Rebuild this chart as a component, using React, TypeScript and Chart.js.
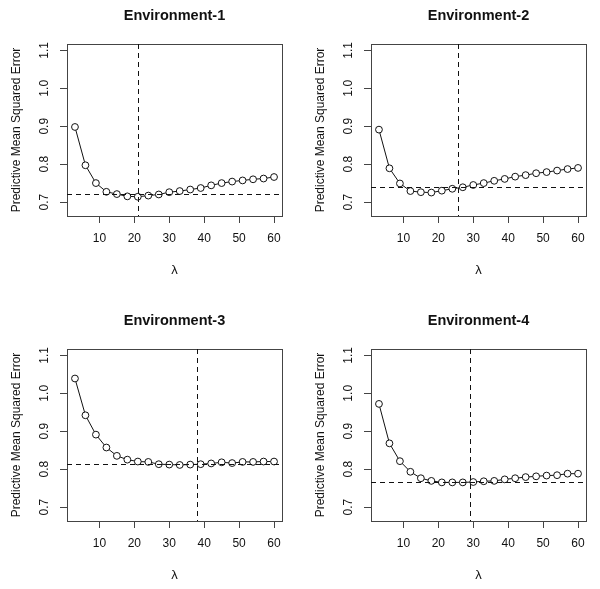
import React, { useEffect, useRef } from "react";
import { Chart, registerables } from "chart.js";

Chart.register(...registerables);

// ---- data ----
const lambdaValues = [3, 6, 9, 12, 15, 18, 21, 24, 27, 30, 33, 36, 39, 42, 45, 48, 51, 54, 57, 60];
const env1 = [0.898, 0.797, 0.75, 0.727, 0.721, 0.715, 0.714, 0.717, 0.72, 0.726, 0.729, 0.733, 0.737, 0.744, 0.75, 0.754, 0.757, 0.76, 0.762, 0.766];
const env2 = [0.891, 0.789, 0.749, 0.729, 0.726, 0.725, 0.73, 0.735, 0.739, 0.745, 0.75, 0.756, 0.761, 0.767, 0.771, 0.776, 0.779, 0.783, 0.787, 0.79];
const env3 = [1.039, 0.942, 0.891, 0.857, 0.835, 0.825, 0.82, 0.819, 0.813, 0.812, 0.811, 0.812, 0.813, 0.815, 0.818, 0.816, 0.819, 0.819, 0.82, 0.82];
const env4 = [0.972, 0.868, 0.821, 0.793, 0.776, 0.769, 0.765, 0.765, 0.765, 0.766, 0.768, 0.769, 0.773, 0.776, 0.779, 0.781, 0.783, 0.784, 0.788, 0.788];
const panelTitles = ["Environment-1", "Environment-2", "Environment-3", "Environment-4"];
const hRefs = [0.721, 0.74, 0.814, 0.766];
const vRefs = [21, 25.7, 38, 29];
const xTickValues = [10, 20, 30, 40, 50, 60];
const yTickValues = [0.7, 0.8, 0.9, 1.0, 1.1];
const xLimits = [0.72, 62.28];
const yLimits = [0.6632, 1.1168];
const yAxisLabel = "Predictive Mean Squared Error";
const xAxisLabel = "λ";

const allSeries = [env1, env2, env3, env4];

// ---- style / layout ----
const FONT = '"Liberation Sans", Arial, Helvetica, sans-serif';
const INK = "#111111";
const AXIS = "#444444";

type Box = { l: number; t: number; r: number; b: number };
type Layout = { left: number; top: number; w: number; h: number; box: Box };

const layouts: Layout[] = [
  { left: 0, top: 0, w: 300, h: 295, box: { l: 67, t: 44, r: 282, b: 216 } },
  { left: 300, top: 0, w: 300, h: 295, box: { l: 71, t: 44, r: 286, b: 216 } },
  { left: 0, top: 295, w: 300, h: 294, box: { l: 67, t: 54, r: 282, b: 226 } },
  { left: 300, top: 295, w: 300, h: 294, box: { l: 71, t: 54, r: 286, b: 226 } },
];

const Y_SCALE_W = 30;
const X_SCALE_H = 30;

function Panel({ idx }: { idx: number }) {
  const ref = useRef<HTMLCanvasElement>(null);
  const L = layouts[idx];

  useEffect(() => {
    const canvas = ref.current;
    if (!canvas) return;
    const series = allSeries[idx];

    const rPlugin = {
      id: "rstyle",
      afterDatasetsDraw(chart: any) {
        const ctx = chart.ctx;
        const a = chart.chartArea;
        const scales = chart.scales;
        const yh = Math.round(scales.y.getPixelForValue(hRefs[idx])) + 0.5;
        const xv = Math.round(scales.x.getPixelForValue(vRefs[idx])) + 0.5;
        ctx.save();
        ctx.strokeStyle = INK;
        ctx.lineWidth = 1;
        ctx.setLineDash([5, 4]);
        ctx.beginPath();
        ctx.moveTo(a.left, yh);
        ctx.lineTo(a.right, yh);
        ctx.stroke();
        ctx.beginPath();
        ctx.moveTo(xv, a.top);
        ctx.lineTo(xv, a.bottom);
        ctx.stroke();
        ctx.restore();
      },
      afterDraw(chart: any) {
        const ctx = chart.ctx;
        const a = chart.chartArea;
        const scales = chart.scales;
        ctx.save();

        const cx = (a.left + a.right) / 2;
        const cy = (a.top + a.bottom) / 2;
        ctx.fillStyle = INK;
        ctx.textAlign = "center";
        ctx.textBaseline = "middle";

        // title
        ctx.font = `bold 14.5px ${FONT}`;
        ctx.fillText(panelTitles[idx], cx, a.top - 28);

        // x axis title
        ctx.font = `13px ${FONT}`;
        ctx.fillText(xAxisLabel, cx, a.bottom + 54);

        // y tick labels (rotated, R style)
        ctx.font = `12px ${FONT}`;
        const ys = scales.y;
        ys.ticks.forEach((tk: any) => {
          const py = ys.getPixelForValue(tk.value);
          ctx.save();
          ctx.translate(a.left - 22, py);
          ctx.rotate(-Math.PI / 2);
          ctx.fillText(tk.value.toFixed(1), 0, 0);
          ctx.restore();
        });

        // y axis title
        ctx.save();
        ctx.translate(a.left - 50, cy);
        ctx.rotate(-Math.PI / 2);
        ctx.fillText(yAxisLabel, 0, 0);
        ctx.restore();

        ctx.restore();
      },
    };

    // zero-size scales on top/right that only draw their border, closing the plot box
    const frameScale = (axis: "x" | "y", position: string) => ({
      type: "linear",
      axis,
      position,
      display: true,
      min: axis === "x" ? xLimits[0] : yLimits[0],
      max: axis === "x" ? xLimits[1] : yLimits[1],
      afterBuildTicks: (s: any) => {
        s.ticks = [];
      },
      afterFit: (s: any) => {
        if (axis === "x") s.height = 0;
        else s.width = 0;
      },
      ticks: { display: false },
      grid: { display: false, drawTicks: false },
      border: { display: true, color: AXIS, width: 1 },
    });

    const chart = new Chart(canvas, {
      type: "line",
      data: {
        datasets: [
          {
            data: lambdaValues.map((x, i) => ({ x, y: series[i] })),
            borderColor: INK,
            borderWidth: 1,
            pointRadius: 3.4,
            pointHoverRadius: 3.4,
            pointBorderColor: INK,
            pointBackgroundColor: "#ffffff",
            pointBorderWidth: 1,
            tension: 0,
            fill: false,
          },
        ],
      },
      options: {
        responsive: false,
        animation: false,
        layout: {
          padding: {
            left: L.box.l - Y_SCALE_W,
            right: L.w - L.box.r,
            top: L.box.t,
            bottom: L.h - L.box.b - X_SCALE_H,
          },
        },
        plugins: {
          legend: { display: false },
          tooltip: { enabled: false },
        },
        scales: {
          x: {
            type: "linear",
            position: "bottom",
            min: xLimits[0],
            max: xLimits[1],
            afterBuildTicks: (s: any) => {
              s.ticks = xTickValues.map((value) => ({ value }));
            },
            afterFit: (s: any) => {
              s.height = X_SCALE_H;
            },
            ticks: {
              autoSkip: false,
              maxRotation: 0,
              padding: 8,
              color: INK,
              font: { family: FONT, size: 12 },
              callback: (v: any) => String(v),
            },
            grid: {
              drawOnChartArea: false,
              drawTicks: true,
              tickLength: 7,
              color: AXIS,
              lineWidth: 1,
            },
            border: { display: true, color: AXIS, width: 1 },
          },
          y: {
            type: "linear",
            position: "left",
            min: yLimits[0],
            max: yLimits[1],
            afterBuildTicks: (s: any) => {
              s.ticks = yTickValues.map((value) => ({ value }));
            },
            afterFit: (s: any) => {
              s.width = Y_SCALE_W;
            },
            ticks: { display: false },
            grid: {
              drawOnChartArea: false,
              drawTicks: true,
              tickLength: 7,
              color: AXIS,
              lineWidth: 1,
            },
            border: { display: true, color: AXIS, width: 1 },
          },
          xTop: frameScale("x", "top"),
          yRight: frameScale("y", "right"),
        },
      },
      plugins: [rPlugin],
    } as any);

    return () => chart.destroy();
  }, [idx]);

  return (
    <canvas
      ref={ref}
      width={L.w}
      height={L.h}
      style={{ position: "absolute", left: L.left, top: L.top, width: L.w, height: L.h, display: "block" }}
    />
  );
}

export default function App() {
  return (
    <div style={{ position: "absolute", left: 0, top: 0, width: 600, height: 589, background: "#ffffff", overflow: "hidden" }}>
      {[0, 1, 2, 3].map((i) => (
        <Panel key={i} idx={i} />
      ))}
    </div>
  );
}
